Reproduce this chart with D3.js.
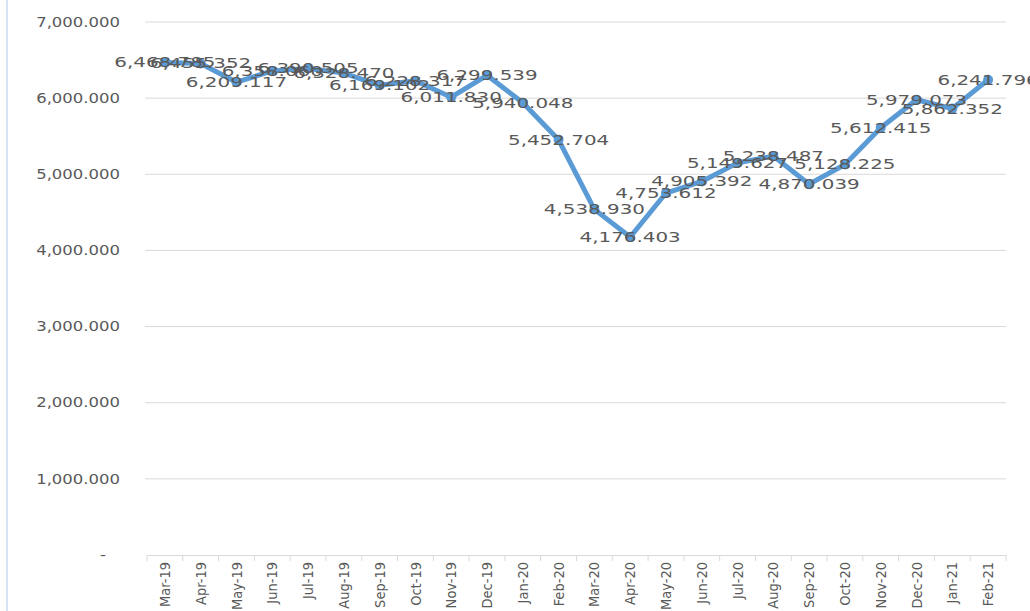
<!DOCTYPE html>
<html>
<head>
<meta charset="utf-8">
<script src="https://d3js.org/d3.v7.min.js"></script>
<style>
body { margin: 0; background: #fff; }
svg { display: block; }
</style>
</head>
<body>
<div id="chart"></div>
<script>
// monthly values
var months = ["Mar-19","Apr-19","May-19","Jun-19","Jul-19","Aug-19","Sep-19","Oct-19","Nov-19","Dec-19",
  "Jan-20","Feb-20","Mar-20","Apr-20","May-20","Jun-20","Jul-20","Aug-20","Sep-20","Oct-20",
  "Nov-20","Dec-20","Jan-21","Feb-21"];
var values = [6468.785, 6455.352, 6209.117, 6358.060, 6390.505, 6328.470, 6169.102, 6228.317, 6011.830, 6299.539,
  5940.048, 5452.704, 4538.930, 4176.403, 4753.612, 4905.392, 5149.627, 5238.487, 4870.039, 5128.225,
  5612.415, 5979.073, 5862.352, 6241.796];
var yTicks = [0, 1000, 2000, 3000, 4000, 5000, 6000, 7000];

var W = 1030, H = 611;
var margin = {top: 22, right: 24, bottom: 56, left: 147};

var svg = d3.select("#chart").append("svg")
    .attr("width", W)
    .attr("height", H);

// faint chart border on the left
svg.append("line")
    .attr("x1", 7).attr("x2", 7).attr("y1", 0).attr("y2", H)
    .attr("stroke", "#d6e3f5").attr("stroke-width", 2);

var x = d3.scaleBand()
    .domain(months)
    .range([margin.left, W - margin.right]);
var y = d3.scaleLinear()
    .domain([0, 7000])
    .range([H - margin.bottom, margin.top]);

var fmt = d3.format(",.3f");

// widen text a bit like the original rendering
function widen(k) {
  return function(sel) {
    sel.each(function() {
      var len = this.getComputedTextLength();
      d3.select(this).attr("textLength", len * k).attr("lengthAdjust", "spacingAndGlyphs");
    });
  };
}

// gridlines
svg.append("g").selectAll("line")
    .data(yTicks.filter(function(d) { return d > 0; }))
  .enter().append("line")
    .attr("x1", margin.left - 2)
    .attr("x2", W - margin.right)
    .attr("y1", function(d) { return y(d); })
    .attr("y2", function(d) { return y(d); })
    .attr("stroke", "#d9d9d9")
    .attr("stroke-width", 1);

// y labels
svg.append("g").selectAll("text")
    .data(yTicks)
  .enter().append("text")
    .attr("x", function(d) { return d === 0 ? 106 : 120; })
    .attr("y", function(d) { return y(d); })
    .attr("dy", "0.35em")
    .attr("text-anchor", "end")
    .attr("fill", "#595959")
    .style("font", "13.5px 'DejaVu Sans', sans-serif")
    .text(function(d) { return d === 0 ? "-" : fmt(d); })
    .call(widen(1.22));

// x axis
var xAxis = svg.append("g")
    .attr("transform", "translate(0," + y(0) + ")")
    .call(d3.axisBottom(x).tickSize(0).tickFormat(""));
xAxis.select(".domain").attr("stroke", "#d9d9d9");
var bounds = months.map(function(m) { return x(m); }).concat([x.range()[1]]);
xAxis.selectAll(".tk").data(bounds).enter().append("line")
    .attr("class", "tk")
    .attr("x1", function(d) { return d; }).attr("x2", function(d) { return d; })
    .attr("y1", 0).attr("y2", 6)
    .attr("stroke", "#d9d9d9");

svg.append("g").selectAll("text")
    .data(months)
  .enter().append("text")
    .attr("transform", function(d) {
      return "translate(" + (x(d) + x.bandwidth() / 2) + "," + (y(0) + 7) + ") rotate(-90)";
    })
    .attr("dy", "0.35em")
    .attr("text-anchor", "end")
    .attr("fill", "#595959")
    .style("font", "14.5px 'Liberation Sans Narrow', 'DejaVu Sans Condensed', sans-serif")
    .text(function(d) { return d; });

// line
var line = d3.line()
    .x(function(d, i) { return x(months[i]) + x.bandwidth() / 2; })
    .y(function(d) { return y(d); });

svg.append("path")
    .datum(values)
    .attr("d", line)
    .attr("fill", "none")
    .attr("stroke", "#5b9bd5")
    .attr("stroke-width", 5)
    .attr("stroke-linejoin", "round");

svg.append("g").selectAll("circle")
    .data(values)
  .enter().append("circle")
    .attr("cx", function(d, i) { return x(months[i]) + x.bandwidth() / 2; })
    .attr("cy", function(d) { return y(d); })
    .attr("r", 5)
    .attr("fill", "#5b9bd5");

// data labels, centred on points
svg.append("g").selectAll("text")
    .data(values)
  .enter().append("text")
    .attr("x", function(d, i) { return x(months[i]) + x.bandwidth() / 2; })
    .attr("y", function(d) { return y(d); })
    .attr("dy", "0.35em")
    .attr("text-anchor", "middle")
    .attr("fill", "#595959")
    .style("font", "14px 'DejaVu Sans', sans-serif")
    .text(function(d) { return fmt(d); })
    .call(widen(1.42));
</script>
</body>
</html>
